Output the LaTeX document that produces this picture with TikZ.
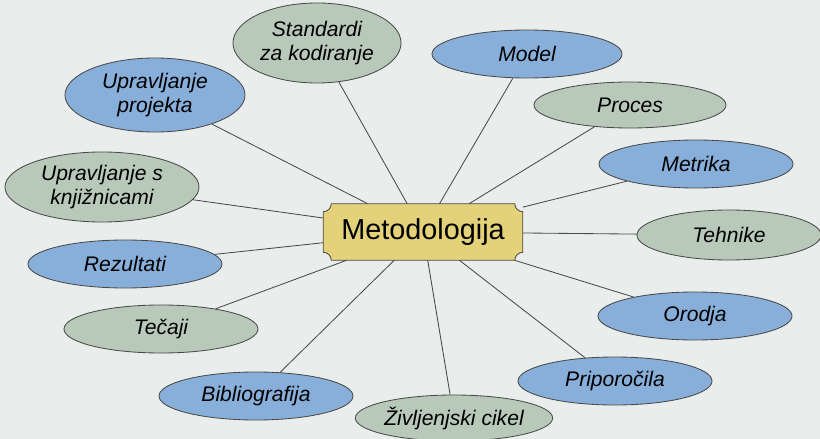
\documentclass[tikz,border=0pt]{standalone}
\usepackage{fontspec}
\setmainfont{Liberation Sans}
\usetikzlibrary{shapes.geometric}

\definecolor{bgcol}{HTML}{E9EEEC}
\definecolor{bluefill}{HTML}{88AEDA}
\definecolor{greenfill}{HTML}{B9C9B9}
\definecolor{boxfill}{HTML}{E3D27A}
\definecolor{edgecol}{HTML}{4A4A4A}

\tikzset{
  topic/.style={ellipse, draw=edgecol, line width=0.6pt, inner sep=0pt, align=center,
    minimum width=4.85cm, minimum height=1.2cm,
    font=\fontsize{15}{17}\selectfont\itshape},
  bluetopic/.style={topic, fill=bluefill},
  greentopic/.style={topic, fill=greenfill},
  link/.style={draw=edgecol, line width=0.6pt}
}

\begin{document}
\begin{tikzpicture}[x=0.025cm, y=-0.025cm]
% Set the page: 820 x 439 px
\def\notch{0.2cm}
\fill[bgcol] (0,0) rectangle (820,439);
\useasboundingbox (0,0) rectangle (820,439);

% Centre box
\node[minimum width=4.975cm, minimum height=1.4cm, inner sep=0pt,
  font=\fontsize{20.5}{24}\selectfont] (meto) at (423,232) {};

% Topics round the box
\node[greentopic, minimum width=4.2cm, minimum height=2.0cm] (standardi) at (317,43) {Standardi\\za kodiranje};
\node[bluetopic, minimum width=4.5cm, minimum height=1.85cm] (projekt) at (155,95) {Upravljanje\\projekta};
\node[greentopic, minimum height=1.75cm] (knjiz) at (102,187) {Upravljanje s\\knjižnicami};
\node[bluetopic, minimum width=4.75cm] (model) at (527,54) {Model};
\node[greentopic, minimum width=4.8cm, minimum height=1.15cm] (proces) at (630,105) {Proces};
\node[bluetopic] (metrika) at (696,164) {Metrika};
\node[greentopic, minimum width=4.6cm, minimum height=1.25cm] (tehnike) at (729,235) {Tehnike};
\node[bluetopic] (orodja) at (695,316) {Orodja};
\node[bluetopic] (priporocila) at (615,381) {Priporočila};
\node[greentopic, minimum height=1.15cm] (cikel) at (454,418) {Življenjski cikel};
\node[bluetopic] (biblio) at (256,396) {Bibliografija};
\node[greentopic] (tecaji) at (161,329) {Tečaji};
\node[bluetopic] (rezultati) at (125,264) {Rezultati};

% Plaque with notched corners
\draw[draw=edgecol, line width=0.6pt, fill=boxfill]
  ([xshift=\notch]meto.north west) -- ([xshift=-\notch]meto.north east)
  arc[start angle=180, end angle=270, radius=\notch]
  -- ([yshift=\notch]meto.south east)
  arc[start angle=90, end angle=180, radius=\notch]
  -- ([xshift=\notch]meto.south west)
  arc[start angle=0, end angle=90, radius=\notch]
  -- ([yshift=-\notch]meto.north west)
  arc[start angle=270, end angle=360, radius=\notch] -- cycle;
\node[font=\fontsize{20.5}{24}\selectfont] (metolabel) at (meto) {Metodologija};

% Links
\foreach \t in {standardi,projekt,knjiz,model,proces,metrika,tehnike,orodja,priporocila,cikel,biblio,tecaji,rezultati}
  \draw[link] (meto) -- (\t);
\end{tikzpicture}
\end{document}
